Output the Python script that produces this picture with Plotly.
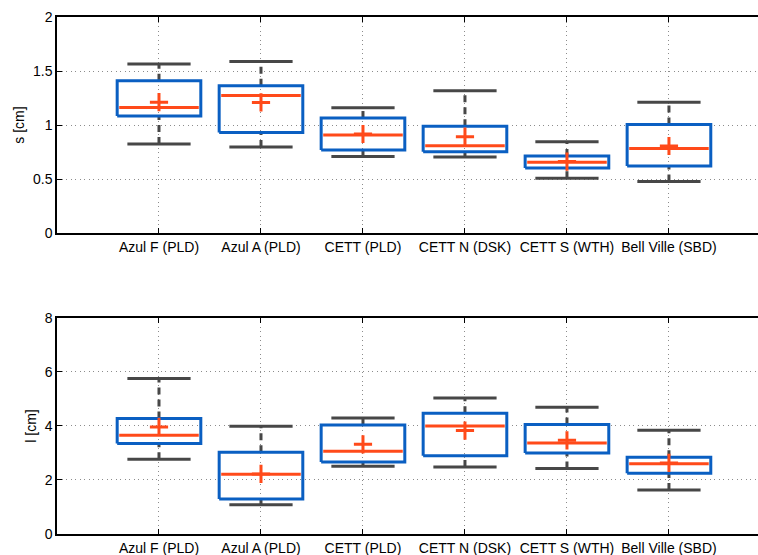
import plotly.graph_objects as go

categories = ["Azul F (PLD)", "Azul A (PLD)", "CETT (PLD)", "CETT N (DSK)", "CETT S (WTH)", "Bell Ville (SBD)"]

# top panel: s [cm]
s_lower = [0.825, 0.797, 0.708, 0.705, 0.508, 0.477]
s_q1 = [1.083, 0.932, 0.769, 0.754, 0.603, 0.622]
s_median = [1.163, 1.274, 0.908, 0.809, 0.655, 0.782]
s_q3 = [1.409, 1.363, 1.065, 0.988, 0.714, 1.006]
s_upper = [1.566, 1.588, 1.160, 1.317, 0.846, 1.212]
s_mean = [1.212, 1.209, 0.917, 0.892, 0.662, 0.806]

# bottom panel: l [cm]
l_lower = [2.765, 1.086, 2.506, 2.481, 2.420, 1.630]
l_q1 = [3.346, 1.296, 2.667, 2.901, 3.000, 2.247]
l_median = [3.654, 2.210, 3.062, 4.000, 3.370, 2.605]
l_q3 = [4.272, 3.025, 4.037, 4.469, 4.049, 2.840]
l_upper = [5.753, 3.988, 4.296, 5.037, 4.691, 3.840]
l_mean = [3.963, 2.222, 3.321, 3.827, 3.469, 2.630]

BLUE = "#0a5fc2"
RED = "#ff4a1a"
GRAY = "#474747"
BOX_HW = 0.41
CAP_HW = 0.31

fig = go.Figure()


def add_panel(lower, q1, med, q3, upper, mean, row):
    xa = "x" if row == 1 else "x2"
    ya = "y" if row == 1 else "y2"
    pos = list(range(1, len(categories) + 1))
    wx, wy = [], []
    for p, lo, a, b, hi in zip(pos, lower, q1, q3, upper):
        wx += [p, p, None, p, p, None]
        wy += [b, hi, None, lo, a, None]
    fig.add_trace(go.Scatter(x=wx, y=wy, mode="lines", xaxis=xa, yaxis=ya,
                             line=dict(color=GRAY, width=3, dash="7px,5px"),
                             hoverinfo="skip", showlegend=False))
    cx, cy = [], []
    for p, lo, hi in zip(pos, lower, upper):
        cx += [p - CAP_HW, p + CAP_HW, None, p - CAP_HW, p + CAP_HW, None]
        cy += [hi, hi, None, lo, lo, None]
    fig.add_trace(go.Scatter(x=cx, y=cy, mode="lines", xaxis=xa, yaxis=ya,
                             line=dict(color=GRAY, width=3),
                             hoverinfo="skip", showlegend=False))
    bx, by = [], []
    for p, a, b in zip(pos, q1, q3):
        bx += [p - BOX_HW, p + BOX_HW, p + BOX_HW, p - BOX_HW, p - BOX_HW, None]
        by += [a, a, b, b, a, None]
    fig.add_trace(go.Scatter(x=bx, y=by, mode="lines", xaxis=xa, yaxis=ya,
                             line=dict(color=BLUE, width=3),
                             hoverinfo="skip", showlegend=False))
    mx, my = [], []
    for p, m in zip(pos, med):
        mx += [p - BOX_HW + 0.02, p + BOX_HW - 0.02, None]
        my += [m, m, None]
    fig.add_trace(go.Scatter(x=mx, y=my, mode="lines", xaxis=xa, yaxis=ya,
                             line=dict(color=RED, width=3),
                             hoverinfo="skip", showlegend=False))
    fig.add_trace(go.Scatter(x=pos, y=mean, mode="markers", xaxis=xa, yaxis=ya,
                             marker=dict(symbol="cross-thin", size=13,
                                         line=dict(color=RED, width=3)),
                             hoverinfo="skip", showlegend=False))


add_panel(s_lower, s_q1, s_median, s_q3, s_upper, s_mean, 1)
add_panel(l_lower, l_q1, l_median, l_q3, l_upper, l_mean, 2)

font = dict(family="Liberation Sans, Arial, sans-serif", size=14, color="#000")
grid = dict(showgrid=True, gridcolor="#8c8c8c", griddash="1px,3.5px", gridwidth=1)
xcommon = dict(range=[0, 6.873], tickvals=list(range(1, 7)), ticktext=categories,
               showline=True, linecolor="#000", linewidth=1.5, mirror="ticks",
               ticks="inside", ticklen=5, tickcolor="#000", tickwidth=1,
               zeroline=False, tickfont=font, automargin=False, **grid)
ycommon = dict(showline=True, linecolor="#000", linewidth=1.5,
               ticks="inside", ticklen=5, tickcolor="#000", tickwidth=1,
               zeroline=False, tickfont=font, automargin=False, **grid)

fig.update_layout(
    width=758, height=555,
    margin=dict(l=57, r=0, t=17, b=21),
    paper_bgcolor="white", plot_bgcolor="white",
    font=font,
    xaxis=dict(domain=[0, 1], anchor="y", **xcommon),
    yaxis=dict(domain=[0.582, 1.0], anchor="x", range=[0, 2],
               tickvals=[0, 0.5, 1, 1.5, 2], ticktext=["0", "0.5", "1", "1.5", "2"],
               title=dict(text="s [cm]", font=font, standoff=5), **ycommon),
    xaxis2=dict(domain=[0, 1], anchor="y2", **xcommon),
    yaxis2=dict(domain=[0, 0.418], anchor="x2", range=[0, 8],
                tickvals=[0, 2, 4, 6, 8],
                title=dict(text="l [cm]", font=font, standoff=5), **ycommon),
)

fig.write_html("out.html", config={"displayModeBar": False},
               post_script="document.body.style.margin='0';document.body.style.overflow='hidden';")
